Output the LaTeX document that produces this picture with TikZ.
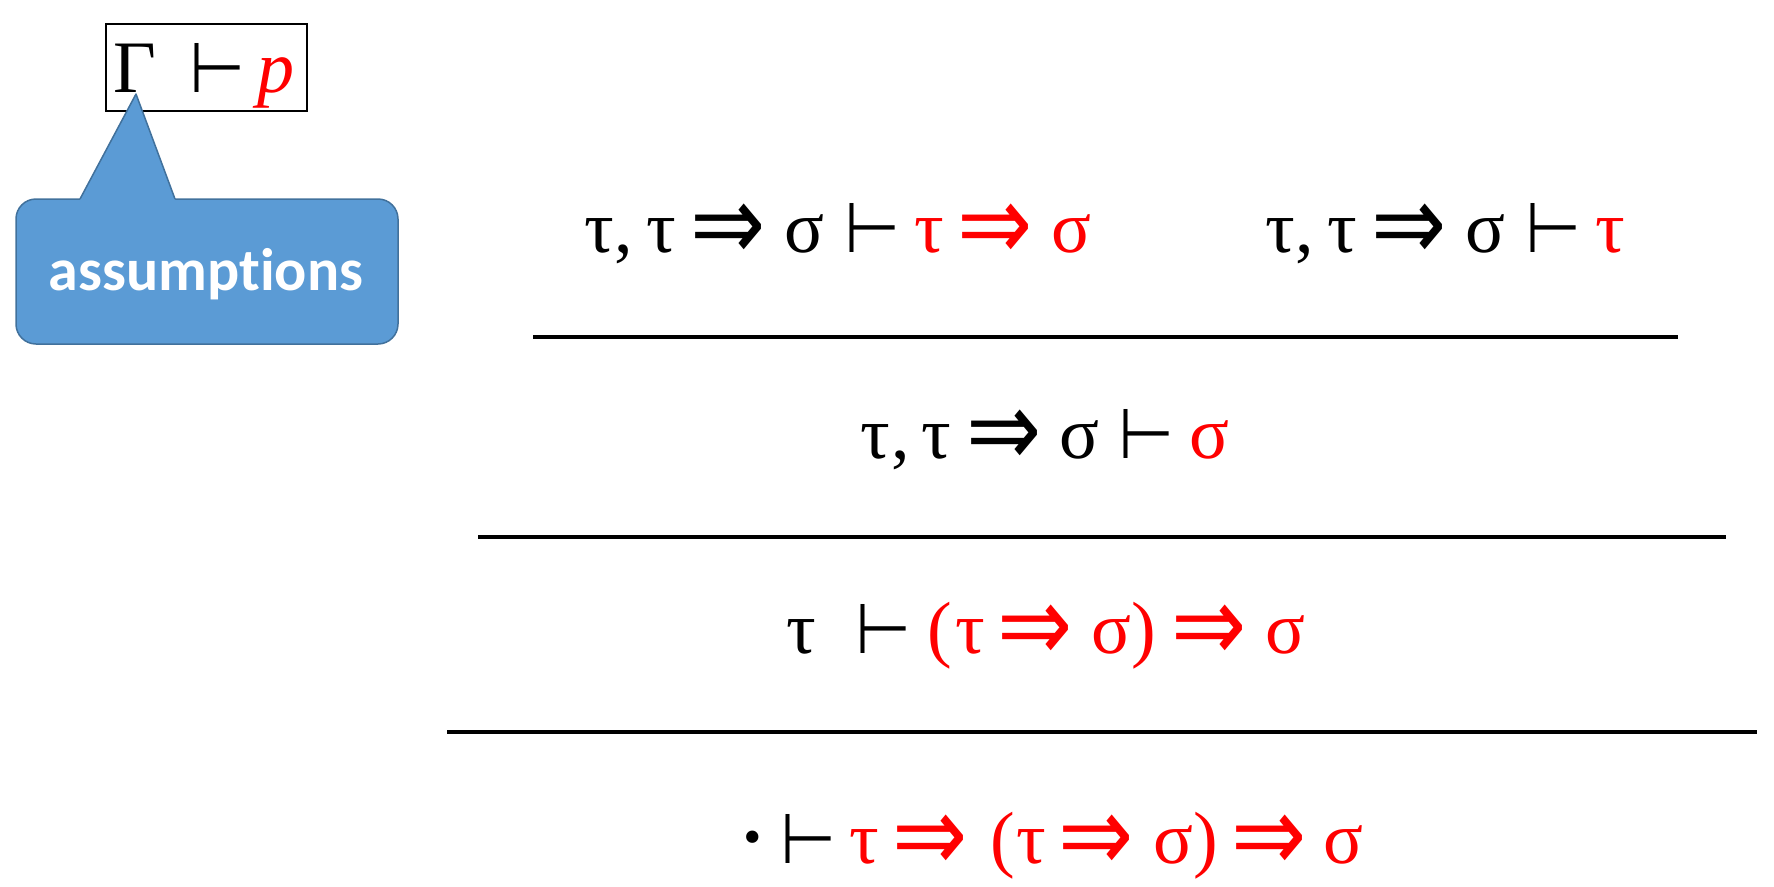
\documentclass[tikz,border=0pt]{standalone}
\usepackage{fontspec}
\setmainfont{Liberation Serif}
\newfontfamily\symf{DejaVu Sans}
\newfontfamily\calf[Ligatures=NoCommon]{Carlito}
\usepackage{graphicx}
\definecolor{calloutfill}{HTML}{5B9BD5}
\definecolor{calloutdraw}{HTML}{41719C}
\newcommand\Gl[2]{\makebox[0pt]{#1}\hspace*{#2pt}}
\newcommand\mimp{\hspace*{-8pt}\raisebox{-8pt}[30pt][0pt]{\scalebox{1.55}[1.85]{\symf\fontsize{58}{60}\selectfont ⇒}}}
\newcommand\mvd{\hspace*{6pt}\scalebox{0.92}[1]{\symf\fontsize{70}{72}\selectfont ⊢}}
\newcommand\mdot{\raisebox{-8pt}[20pt][0pt]{\scalebox{1.4}{·}}}
\newcommand\rd[1]{\color{red}#1}
\begin{document}
\begin{tikzpicture}[x=1pt,y=-1pt,
  formula/.style={anchor=base west, inner sep=0pt, font=\fontsize{74}{80}\selectfont},
  rule/.style={line width=3.2pt},
  callout/.style={fill=calloutfill, draw=calloutdraw, line width=1.5pt, line join=round}]
\useasboundingbox (0,0) rectangle (1774,886);
% judgement box
\node[draw, line width=1.5pt, minimum width=201pt, minimum height=87pt, inner sep=0pt] (judgbox) at (206.5,67.5) {};
\node[formula] (judgtext) at (134.5,92) {\Gl{Γ}{79.5}\Gl{\mvd}{62}\Gl{\rd{\itshape p}}{0}};
% callout
\node[callout, rounded corners=20pt, minimum width=382pt, minimum height=145pt, inner sep=0pt] (callbox) at (207,271.5) {};
\fill[calloutfill] (80,199) -- (136,94) -- (175,199) -- (175,202) -- (80,202) -- cycle;
\draw[calloutdraw, line width=1.5pt, line join=round] (80,199) -- (136,94) -- (175,199);
\node[anchor=base, inner sep=0pt, text=white, font=\calf\bfseries\fontsize{60}{62}\selectfont] (assum) at (206,290) {assumptions};
% premises
\node[formula] (f1) at (599,252) {\Gl{τ}{25}\Gl{,}{37.5}\Gl{τ}{70}\Gl{\mimp}{72.5}\Gl{σ}{65}\Gl{\mvd}{60}\Gl{\rd{τ}}{70}\Gl{\rd{\mimp}}{72.5}\Gl{\rd{σ}}{0}};
\node[formula] (f2) at (1280,252) {\Gl{τ}{25}\Gl{,}{37.5}\Gl{τ}{70}\Gl{\mimp}{72.5}\Gl{σ}{65}\Gl{\mvd}{60}\Gl{\rd{τ}}{0}};
\coordinate (l1a) at (533,337); \coordinate (l1b) at (1678,337);
\draw[rule] (l1a) -- (l1b);
\node[formula] (f3) at (875,458) {\Gl{τ}{26}\Gl{,}{35}\Gl{τ}{71.5}\Gl{\mimp}{72}\Gl{σ}{64}\Gl{\mvd}{65.5}\Gl{\rd{σ}}{0}};
\coordinate (l2a) at (478,537); \coordinate (l2b) at (1726,537);
\draw[rule] (l2a) -- (l2b);
\node[formula] (f4) at (801,653) {\Gl{τ}{79.5}\Gl{\mvd}{59.5}\Gl{\rd{(}}{30}\Gl{\rd{τ}}{69}\Gl{\rd{\mimp}}{72.5}\Gl{\rd{σ}}{32.5}\Gl{\rd{)}}{69}\Gl{\rd{\mimp}}{72}\Gl{\rd{σ}}{0}};
\coordinate (l3a) at (447,732); \coordinate (l3b) at (1757,732);
\draw[rule] (l3a) -- (l3b);
\node[formula] (f5) at (752.5,863) {\Gl{\mdot}{52.5}\Gl{\mvd}{59}\Gl{\rd{τ}}{69.5}\Gl{\rd{\mimp}}{69}\Gl{\rd{(}}{29}\Gl{\rd{τ}}{68.5}\Gl{\rd{\mimp}}{73}\Gl{\rd{σ}}{32.5}\Gl{\rd{)}}{67}\Gl{\rd{\mimp}}{70.5}\Gl{\rd{σ}}{0}};
\end{tikzpicture}
\end{document}
